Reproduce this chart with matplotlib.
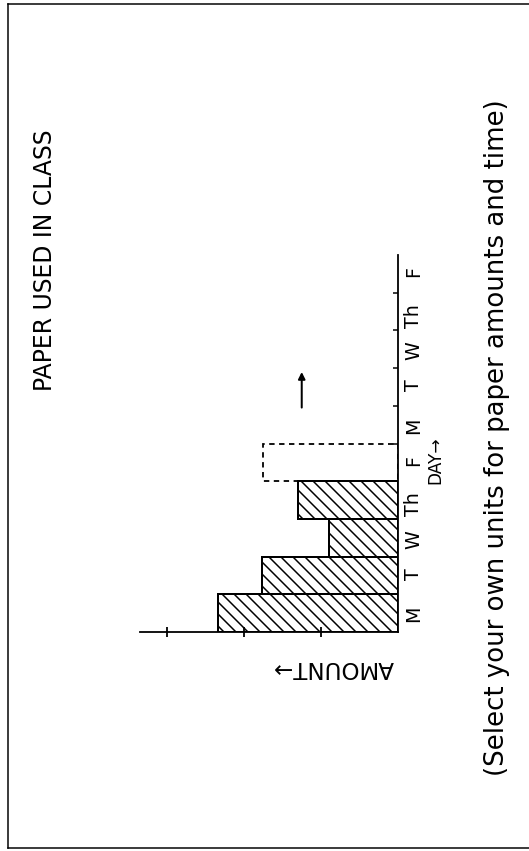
import matplotlib
matplotlib.use("Agg")
import matplotlib.pyplot as plt
from matplotlib.lines import Line2D

# chart values (the page is turned a quarter turn: days run upward, amount runs leftward)
day_labels = ["M", "T", "W", "Th", "F", "M", "T", "W", "Th", "F"]
used_days = [0, 1, 2, 3]
used_amounts = [2.34, 1.77, 0.90, 1.30]
planned_days = [4]
planned_amounts = [1.75]
amount_ticks = [1, 2, 3]
day_ticks = [1, 2, 3, 4, 5, 6, 7, 8, 9]
amount_max = 3.35
arrow_amount = 1.25
arrow_days = [5.9, 6.95]

W, H, DPI = 529, 851, 72
plt.rcParams["hatch.linewidth"] = 1.5
plt.rcParams["font.family"] = ["DejaVu Sans"]

fig = plt.figure(figsize=(W / DPI, H / DPI), dpi=DPI)
ax = fig.add_axes([140 / W, 1 - 632 / H, (398 - 140) / W, (632 - 255) / H])

ax.barh(used_days, used_amounts, height=1, align="edge", color="white",
        edgecolor="black", linewidth=2, hatch="\\\\")
ax.barh(planned_days, planned_amounts, height=1, align="edge", fill=False,
        edgecolor="black", linewidth=1.8, linestyle=(0, (3, 2.5)))

ax.annotate("", xy=(arrow_amount, arrow_days[1]), xytext=(arrow_amount, arrow_days[0]),
            arrowprops=dict(arrowstyle="-|>", lw=2, color="black", mutation_scale=14))

ax.set_xlim(amount_max, 0)
ax.set_ylim(0, len(day_labels))
ax.spines["top"].set_visible(False)
ax.spines["left"].set_visible(False)
ax.spines["bottom"].set_linewidth(1.8)
ax.spines["right"].set_linewidth(1.8)

ax.set_xticks(amount_ticks)
ax.set_xticklabels([])
ax.tick_params(axis="x", direction="inout", length=10, width=1.8)

ax.yaxis.tick_right()
ax.set_yticks(day_ticks)
ax.set_yticklabels([])
ax.set_yticks([d + 0.5 for d in range(len(day_labels))], minor=True)
ax.set_yticklabels(day_labels, minor=True, rotation=90, fontsize=19)
ax.tick_params(axis="y", which="major", direction="in", length=5, width=1.5)
ax.tick_params(axis="y", which="minor", length=0, pad=6)

ax.text(0.75, -0.095, "AMOUNT\u2192", transform=ax.transAxes, rotation=180,
        ha="center", va="center", fontsize=23)
ax.text(1.145, 0.455, "DAY\u2192", transform=ax.transAxes, rotation=90,
        ha="center", va="center", fontsize=17)

fig.text(45 / W, 1 - 260 / H, "PAPER USED IN CLASS", rotation=90,
         ha="center", va="center", fontsize=23.5)
fig.text(497 / W, 1 - 438 / H, "(Select your own units for paper amounts and time)",
         rotation=90, ha="center", va="center", fontsize=26)

# page border
for xs, ys in [([8, 8], [4, 848]), ([8, W], [4, 4]), ([8, W], [848, 848])]:
    fig.add_artist(Line2D([x / W for x in xs], [1 - y / H for y in ys],
                          transform=fig.transFigure, color="black", lw=1.5))

fig.savefig("out.png", dpi=DPI)
